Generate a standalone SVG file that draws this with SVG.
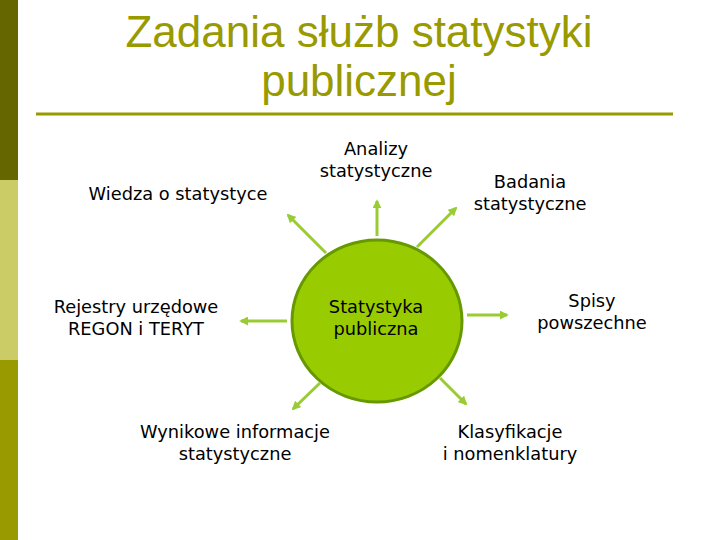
<svg xmlns="http://www.w3.org/2000/svg" width="720" height="540" viewBox="0 0 720 540">
<defs>
<style>
.t{font-family:"DejaVu Sans",Verdana,sans-serif;font-size:17.8px;fill:#000;text-anchor:middle}
.h{font-family:"Liberation Sans",Arial,sans-serif;font-size:44px;fill:#999900;text-anchor:middle}
.c{stroke:#99CC33;stroke-width:3;fill:none;marker-end:url(#ah)}
</style>
<marker id="ah" viewBox="0 0 10 10" refX="8" refY="5" markerWidth="3" markerHeight="3" orient="auto">
<path d="M0,0 L10,5 L0,10 z" fill="#99CC33"/>
</marker>
</defs>
<rect width="720" height="540" fill="#fff"/>
<rect x="0" y="0" width="18" height="180" fill="#666600"/>
<rect x="0" y="180" width="18" height="180" fill="#CCCC66"/>
<rect x="0" y="360" width="18" height="180" fill="#999900"/>
<g id="title">
<text class="h" x="359" y="47">Zadania służb statystyki</text>
<text class="h" x="359" y="96">publicznej</text>
<line x1="36" y1="114" x2="673" y2="114" stroke="#999900" stroke-width="3"/>
</g>
<g id="connectors">
<line class="c" x1="377" y1="236" x2="377" y2="201"/>
<line class="c" x1="326" y1="253" x2="288" y2="215"/>
<line class="c" x1="417" y1="247" x2="456" y2="208"/>
<line class="c" x1="467" y1="315" x2="507" y2="315"/>
<line class="c" x1="440" y1="378" x2="466" y2="404"/>
<line class="c" x1="320" y1="383" x2="293" y2="409"/>
<line class="c" x1="287" y1="321" x2="241" y2="321"/>
</g>
<g id="center">
<ellipse cx="377" cy="321" rx="85" ry="81" fill="#99CC00" stroke="#669900" stroke-width="3"/>
<text class="t" x="376" y="313">Statystyka</text>
<text class="t" x="376" y="335">publiczna</text>
</g>
<g id="analizy">
<text class="t" x="376" y="155">Analizy</text>
<text class="t" x="376" y="177">statystyczne</text>
</g>
<g id="wiedza">
<text class="t" x="178" y="200">Wiedza o statystyce</text>
</g>
<g id="badania">
<text class="t" x="530" y="188">Badania</text>
<text class="t" x="530" y="210">statystyczne</text>
</g>
<g id="rejestry">
<text class="t" x="136" y="313">Rejestry urzędowe</text>
<text class="t" x="136" y="335">REGON i TERYT</text>
</g>
<g id="spisy">
<text class="t" x="592" y="307">Spisy</text>
<text class="t" x="592" y="329">powszechne</text>
</g>
<g id="wynikowe">
<text class="t" x="235" y="438">Wynikowe informacje</text>
<text class="t" x="235" y="460">statystyczne</text>
</g>
<g id="klasyfikacje">
<text class="t" x="510" y="438">Klasyfikacje</text>
<text class="t" x="510" y="460">i nomenklatury</text>
</g>
</svg>
